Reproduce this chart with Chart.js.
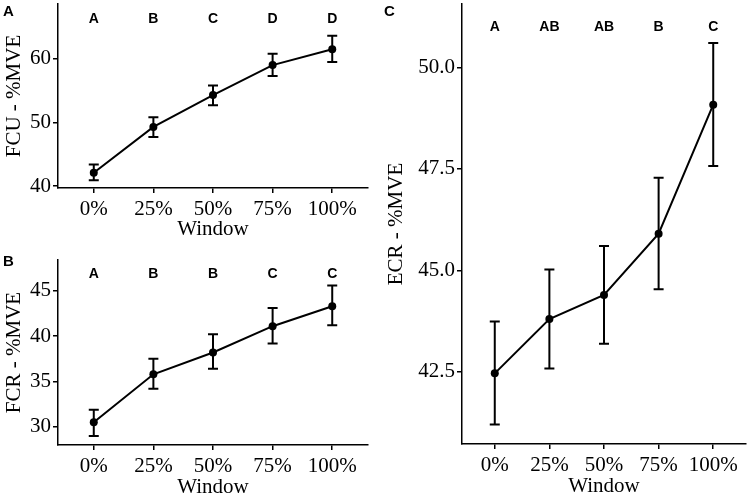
<!DOCTYPE html>
<html>
<head>
<meta charset="utf-8">
<script src="https://cdn.jsdelivr.net/npm/chart.js@4"></script>
<style>
html, body { margin: 0; padding: 0; width: 750px; height: 496px; overflow: hidden; background: #fff; }
canvas { position: absolute; }
.tag { position: absolute; font: bold 15px "Liberation Sans", Arial, sans-serif; line-height: 1; color: #000; }
</style>
</head>
<body>
<canvas id="fcu" width="375" height="245" style="left:0;top:0"></canvas>
<canvas id="fcr" width="375" height="256" style="left:0;top:250px"></canvas>
<canvas id="ecr" width="375" height="506" style="left:375px;top:0"></canvas>
<div class="tag" style="left:3px;top:3px">A</div>
<div class="tag" style="left:3px;top:253px">B</div>
<div class="tag" style="left:384px;top:3px">C</div>
<script>
const categories = ['0%', '25%', '50%', '75%', '100%'];

// panel A
const fcuMean = [42.1, 49.3, 54.3, 59.0, 61.5];
const fcuLow = [40.9, 47.7, 52.7, 57.3, 59.5];
const fcuHigh = [43.4, 50.8, 55.8, 60.8, 63.6];
const fcuLetters = ['A', 'B', 'C', 'D', 'D'];
const fcuTicks = [40, 50, 60];

// panel B
const fcrMean = [30.5, 35.8, 38.2, 41.1, 43.3];
const fcrLow = [29.0, 34.2, 36.4, 39.2, 41.2];
const fcrHigh = [31.9, 37.5, 40.2, 43.1, 45.6];
const fcrLetters = ['A', 'B', 'B', 'C', 'C'];
const fcrTicks = [30, 35, 40, 45];

// panel C
const ecrMean = [42.46, 43.8, 44.39, 45.9, 49.08];
const ecrLow = [41.2, 42.58, 43.19, 44.53, 47.57];
const ecrHigh = [43.74, 45.02, 45.6, 47.28, 50.6];
const ecrLetters = ['A', 'AB', 'AB', 'B', 'C'];
const ecrTicks = [42.5, 45.0, 47.5, 50.0];

const serif = { family: '"Liberation Serif", "Times New Roman", serif', size: 21 };

function drawPanel(id, p) {
    const errorBars = {
        id: 'errorBars',
        beforeDatasetsDraw(chart) {
            const { ctx, scales: { x, y } } = chart;
            ctx.save();
            ctx.strokeStyle = '#000';
            ctx.lineWidth = 2;
            p.low.forEach((lo, i) => {
                const px = x.getPixelForValue(i);
                const top = y.getPixelForValue(p.high[i]);
                const bot = y.getPixelForValue(lo);
                ctx.beginPath();
                ctx.moveTo(px, top); ctx.lineTo(px, bot);
                ctx.moveTo(px - 5, top); ctx.lineTo(px + 5, top);
                ctx.moveTo(px - 5, bot); ctx.lineTo(px + 5, bot);
                ctx.stroke();
            });
            ctx.restore();
        },
        afterDatasetsDraw(chart) {
            const { ctx, scales: { x, y } } = chart;
            ctx.save();
            ctx.fillStyle = '#000';
            ctx.font = 'bold 14px "Liberation Sans", Arial, sans-serif';
            ctx.textAlign = 'center';
            ctx.textBaseline = 'middle';
            p.letters.forEach((t, i) => {
                ctx.fillText(t, x.getPixelForValue(i), y.getPixelForValue(p.letterY));
            });
            ctx.restore();
        }
    };

    new Chart(document.getElementById(id), {
        type: 'line',
        data: {
            datasets: [{
                data: p.mean.map((v, i) => ({ x: i, y: v })),
                borderColor: '#000',
                borderWidth: 2,
                pointRadius: 4,
                pointBackgroundColor: '#000',
                pointBorderWidth: 0,
                fill: false,
                tension: 0
            }]
        },
        options: {
            responsive: false,
            animation: false,
            layout: { padding: p.pad },
            plugins: { legend: { display: false }, tooltip: { enabled: false } },
            scales: {
                x: {
                    type: 'linear',
                    min: -0.6,
                    max: 4.6,
                    afterBuildTicks: s => { s.ticks = categories.map((c, i) => ({ value: i })); },
                    ticks: { callback: v => categories[v], font: serif, color: '#000', padding: 4, maxRotation: 0, autoSkip: false },
                    grid: { drawOnChartArea: false, drawTicks: true, tickLength: 5, color: '#000', lineWidth: 1.5 },
                    border: { display: true, color: '#000', width: 1.5 },
                    title: { display: true, text: 'Window', font: serif, color: '#000', padding: { top: 0, bottom: p.xTitlePad } },
                    afterFit: s => { s.height = p.xHeight; s.paddingLeft = 0; s.paddingRight = 0; }
                },
                y: {
                    min: p.yMin,
                    max: p.yMax,
                    afterBuildTicks: s => { s.ticks = p.ticks.map(v => ({ value: v })); },
                    ticks: { callback: v => v.toFixed(p.digits), font: serif, color: '#000', padding: 2 },
                    grid: { drawOnChartArea: false, drawTicks: true, tickLength: 5, color: '#000', lineWidth: 1.5 },
                    border: { display: true, color: '#000', width: 1.5 },
                    title: { display: true, text: p.yTitle, font: serif, color: '#000', padding: { top: p.yTitlePad, bottom: 0 } },
                    afterFit: s => { s.width = p.yWidth; s.paddingTop = 0; s.paddingBottom = 0; }
                }
            }
        },
        plugins: [errorBars]
    });
}

drawPanel('fcu', {
    mean: fcuMean, low: fcuLow, high: fcuHigh, letters: fcuLetters, ticks: fcuTicks,
    letterY: 66.3, yMin: 39.7, yMax: 68.6, digits: 0, yTitle: 'FCU - %MVE',
    pad: { top: 3, right: 7, left: 0, bottom: 0 }, xHeight: 57, xTitlePad: 3, yWidth: 58, yTitlePad: 2
});

drawPanel('fcr', {
    mean: fcrMean, low: fcrLow, high: fcrHigh, letters: fcrLetters, ticks: fcrTicks,
    letterY: 46.8, yMin: 28.0, yMax: 48.4, digits: 0, yTitle: 'FCR - %MVE',
    pad: { top: 10, right: 7, left: 0, bottom: 0 }, xHeight: 61, xTitlePad: 6, yWidth: 58, yTitlePad: 2
});

drawPanel('ecr', {
    mean: ecrMean, low: ecrLow, high: ecrHigh, letters: ecrLetters, ticks: ecrTicks,
    letterY: 50.98, yMin: 40.72, yMax: 51.56, digits: 1, yTitle: 'ECR - %MVE',
    pad: { top: 3, right: 2, left: 0, bottom: 0 }, xHeight: 62, xTitlePad: 7, yWidth: 87, yTitlePad: 9
});
</script>
</body>
</html>
